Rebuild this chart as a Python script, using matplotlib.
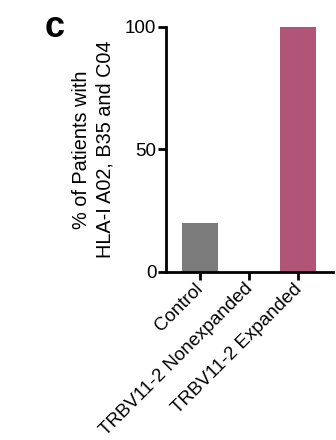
import matplotlib.pyplot as plt
from matplotlib.transforms import ScaledTranslation

plt.rcParams['font.family'] = ['Liberation Sans', 'DejaVu Sans']

categories = ['Control', 'TRBV11-2 Nonexpanded', 'TRBV11-2 Expanded']
percent = [20, 0, 100]
colors = ['#7b7b7b', '#b05577', '#b05577']

fig = plt.figure(figsize=(3.36, 4.4), dpi=100)
ax = fig.add_axes([0.494, 0.382, 0.497, 0.557])

x = range(len(categories))
ax.bar(x, percent, width=0.73, color=colors)

ax.set_xlim(-0.69, 2.71)
ax.set_ylim(0, 100)
ax.set_yticks([0, 50, 100])
ax.set_xticks(list(x))
ax.set_xticklabels(categories, rotation=45, ha='right', rotation_mode='anchor',
                   fontsize=13.5)
ax.tick_params(axis='y', labelsize=13.5, width=2, length=6, direction='out', pad=1)
ax.tick_params(axis='x', width=2, length=6, direction='out', pad=0)

# nudge the rotated labels a little to the left
shift = ScaledTranslation(-5 / 100, 0, fig.dpi_scale_trans)
for lab in ax.get_xticklabels():
    lab.set_transform(lab.get_transform() + shift)

for s in ['top', 'right']:
    ax.spines[s].set_visible(False)
for s in ['left', 'bottom']:
    ax.spines[s].set_linewidth(2)

ax.set_ylabel('% of Patients with\nHLA-I A02, B35 and C04', fontsize=14.3,
              linespacing=1.25)
ax.yaxis.set_label_coords(-0.31, 0.5)

fig.text(0.162, 0.938, 'c', fontsize=26, fontweight='bold', ha='center', va='center')

fig.savefig('out.png', dpi=100)
